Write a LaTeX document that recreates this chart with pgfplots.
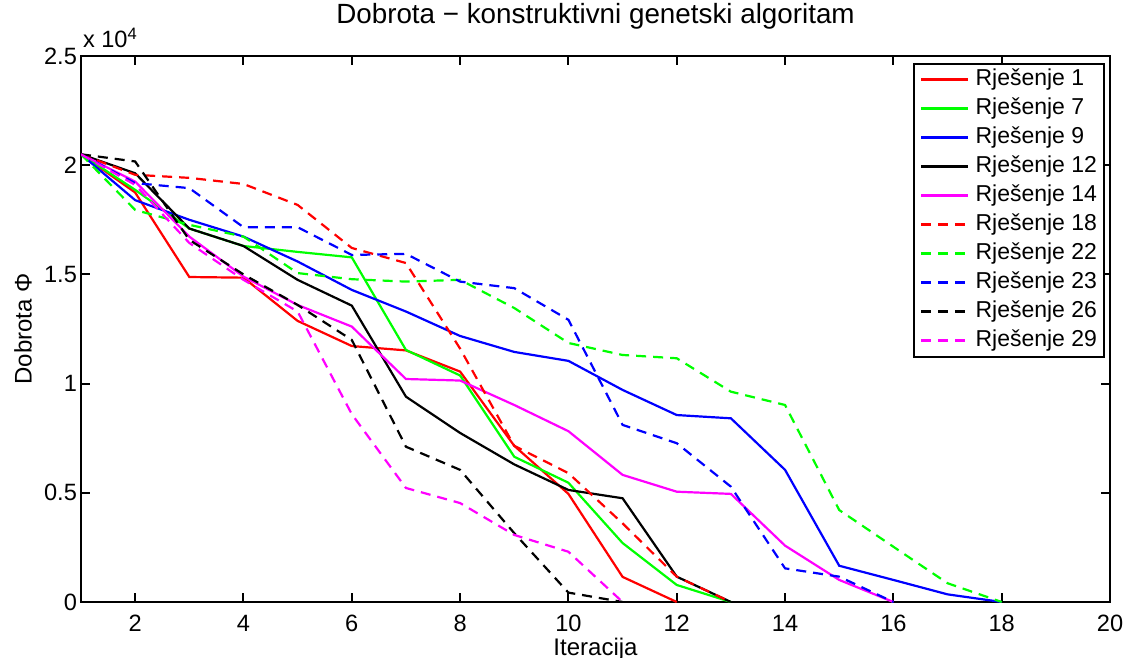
\documentclass[border=0pt]{standalone}
\usepackage{fontspec}
\setmainfont{Liberation Sans}
\usepackage{pgfplots}
\pgfplotsset{compat=1.18}
\definecolor{mred}{RGB}{255,0,0}
\definecolor{mgreen}{RGB}{0,255,0}
\definecolor{mblue}{RGB}{0,0,255}
\definecolor{mmag}{RGB}{255,0,255}
\begin{document}
\begin{tikzpicture}
\begin{axis}[
  at={(0,0)}, anchor=south west,
  scale only axis, width=514.5pt, height=273pt,
  xmin=1, xmax=20, ymin=0, ymax=25000,
  xtick={2,4,...,20},
  ytick={0,5000,10000,15000,20000,25000},
  yticklabels={0,0.5,1,1.5,2,2.5},
  scaled y ticks=false,
  clip mode=individual,
  tick align=inside,
  major tick length=4.5pt,
  axis line style={line width=1pt},
  every tick/.style={black, line width=1pt},
  tick label style={font=\fontsize{11.8}{13}\selectfont},
  xticklabel style={yshift=-3pt},
  yticklabel style={xshift=1.5pt},
  /pgf/number format/assume math mode=true,
  xlabel={Iteracija}, ylabel={Dobrota Φ},
  label style={font=\fontsize{12}{14}\selectfont},
  xlabel style={at={(rel axis cs:0.5,0)}, anchor=base, yshift=-26.8pt},
  ylabel style={at={(rel axis cs:0,0.5)}, anchor=center, yshift=29pt},
  title={Dobrota − konstruktivni genetski algoritam},
  title style={font=\fontsize{13.9}{16}\selectfont, at={(rel axis cs:0.5,1)}, anchor=base, yshift=10pt},
  legend cell align=left,
  legend image code/.code={\draw[#1] (0pt,0pt) -- (23.5pt,0pt);},
  legend style={at={(rel axis cs:1,1)}, anchor=north east, xshift=-2.5pt, yshift=-3.3pt,
    draw=black, line width=1pt, font=\fontsize{11.5}{13}\selectfont,
    inner xsep=3pt, inner ysep=1.5pt, row sep=1.5pt,
    /tikz/every odd column/.append style={column sep=2.5pt},
    nodes={inner sep=0.5pt, text height=9pt, text depth=3pt}},
  every axis plot/.append style={line width=1.1pt},
  dsh/.style={dash pattern=on 5pt off 3.5pt},
]
\addplot[mred] coordinates {(1,20500)(2,18750)(3,14880)(4,14850)(5,12870)(6,11720)(7,11520)(8,10550)(9,7150)(10,4950)(11,1150)(12,0)};
\addlegendentry{Rješenje 1}
\addplot[mgreen] coordinates {(1,20500)(2,18870)(3,17100)(4,16300)(5,16030)(6,15780)(7,11540)(8,10370)(9,6650)(10,5460)(11,2700)(12,780)(13,0)};
\addlegendentry{Rješenje 7}
\addplot[mblue] coordinates {(1,20500)(2,18400)(3,17500)(4,16730)(5,15590)(6,14290)(7,13300)(8,12180)(9,11450)(10,11040)(11,9710)(12,8560)(13,8410)(14,6050)(15,1660)(16,1010)(17,350)(18,0)};
\addlegendentry{Rješenje 9}
\addplot[black] coordinates {(1,20500)(2,19630)(3,17100)(4,16300)(5,14750)(6,13570)(7,9400)(8,7740)(9,6300)(10,5130)(11,4750)(12,1160)(13,0)};
\addlegendentry{Rješenje 12}
\addplot[mmag] coordinates {(1,20500)(2,19250)(3,16730)(4,14900)(5,13600)(6,12610)(7,10210)(8,10140)(9,9020)(10,7820)(11,5820)(12,5050)(13,4950)(14,2580)(15,1010)(16,0)};
\addlegendentry{Rješenje 14}
\addplot[mred, dsh] coordinates {(1,20500)(2,19560)(3,19420)(4,19140)(5,18180)(6,16210)(7,15520)(8,11600)(9,7150)(10,5900)(11,3600)(12,1160)(13,0)};
\addlegendentry{Rješenje 18}
\addplot[mgreen, dsh] coordinates {(1,20500)(2,17950)(3,17270)(4,16730)(5,15060)(6,14780)(7,14670)(8,14750)(9,13460)(10,11860)(11,11310)(12,11160)(13,9630)(14,9020)(15,4210)(16,2530)(17,860)(18,0)};
\addlegendentry{Rješenje 22}
\addplot[mblue, dsh] coordinates {(1,20500)(2,19180)(3,18950)(4,17160)(5,17160)(6,15890)(7,15940)(8,14670)(9,14370)(10,12920)(11,8110)(12,7270)(13,5280)(14,1540)(15,1160)(16,0)};
\addlegendentry{Rješenje 23}
\addplot[black, dsh] coordinates {(1,20500)(2,20170)(3,16580)(4,15000)(5,13600)(6,12000)(7,7110)(8,6050)(9,3150)(10,430)(11,0)};
\addlegendentry{Rješenje 26}
\addplot[mmag, dsh] coordinates {(1,20500)(2,19100)(3,16440)(4,14750)(5,13300)(6,8600)(7,5220)(8,4530)(9,3070)(10,2300)(11,0)};
\addlegendentry{Rješenje 29}
\node[anchor=base west, inner sep=0pt, font=\fontsize{11.8}{13}\selectfont] at (rel axis cs:0,1) [xshift=0.8pt, yshift=4pt] {x 10\textsuperscript{4}};
\end{axis}
\pgfresetboundingbox
\path[use as bounding box] (-40.5pt,-27.5pt) rectangle (523pt,301pt);
\end{tikzpicture}
\end{document}
